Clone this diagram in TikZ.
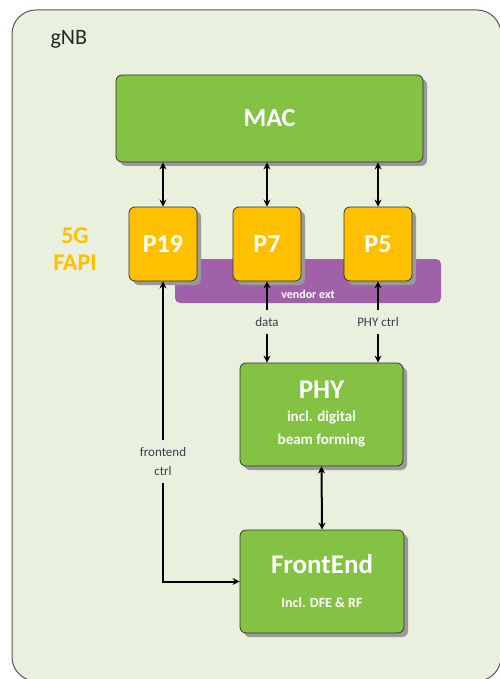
\documentclass[tikz,border=0pt]{standalone}
\usepackage{fontspec}
\setmainfont{Carlito}
\usetikzlibrary{positioning,shadows,arrows.meta}
\definecolor{gnbbg}{RGB}{234,240,222}
\definecolor{gnbline}{RGB}{85,85,85}
\definecolor{macgreen}{RGB}{131,194,66}
\definecolor{fapiorange}{RGB}{255,192,0}
\definecolor{vendorpurple}{RGB}{161,97,168}
\definecolor{lbltext}{RGB}{60,60,75}

\begin{document}
\begin{tikzpicture}[x=1pt,y=-1pt,
block/.style={rectangle, draw=black!80, line width=0.8pt, rounded corners=6pt, fill=macgreen,
        text=white, align=center, inner sep=0pt,
        drop shadow={shadow xshift=4pt, shadow yshift=-4pt, fill=black!40, opacity=1}},
port/.style={block, fill=fapiorange, minimum width=68pt, minimum height=74pt,
        font=\fontsize{26}{28}\selectfont\bfseries},
conn/.style={line width=2pt, {Stealth[length=7pt,width=7pt]}-{Stealth[length=7pt,width=7pt]}},
lbl/.style={fill=gnbbg, text=lbltext, align=center, inner xsep=2pt, inner ysep=7pt,
        font=\fontsize{13}{19}\selectfont}
]
  \useasboundingbox (0,0) rectangle (499,679);
  \node (gnb) [draw=gnbline, line width=1pt, fill=gnbbg, rounded corners=24pt,
      minimum width=489pt, minimum height=671pt] at (256.5,345.5) {};
  \node [anchor=base west, font=\fontsize{22}{24}\selectfont, text=black!85] at (47,45) {gNB};

  \node (mac) [block, minimum width=307pt, minimum height=87pt,
      font=\fontsize{26}{28}\selectfont\bfseries] at (269.5,118.5) {MAC};

  \node (vendor) [rectangle, rounded corners=5pt, fill=vendorpurple, minimum width=266pt,
      minimum height=44pt, label={[text=white, font=\fontsize{12}{13}\selectfont\bfseries,
      label distance=-17pt]south:vendor ext}] at (308,281) {};

  \node (p19) [port] at (163,244) {P19};
  \node (p7)  [port] at (267,244) {P7};
  \node (p5)  [port] at (378,244) {P5};

  \node (fapi) [align=center, text=fapiorange, font=\fontsize{24}{27}\selectfont\bfseries]
      at (75,249) {5G\\FAPI};

  \node (phy) [block, minimum width=163pt, minimum height=103pt,
      font=\fontsize{15}{23}\selectfont\bfseries] at (321.5,414.5)
      {{\fontsize{27}{30}\selectfont PHY}\\incl. digital\\beam forming};
  \node (fe) [block, minimum width=164pt, minimum height=103pt,
      font=\fontsize{14}{34}\selectfont\bfseries] at (322,581.5)
      {{\fontsize{27}{30}\selectfont FrontEnd}\\Incl. DFE \& RF};

  \draw [conn] (p19.north |- mac.south) -- (p19.north);
  \draw [conn] (p7.north |- mac.south) -- (p7.north);
  \draw [conn] (p5.north |- mac.south) -- (p5.north);
  \draw [conn] (p7.south) -- node [lbl] {data} (p7.south |- phy.north);
  \draw [conn] (p5.south) -- node [lbl] {PHY ctrl} (p5.south |- phy.north);
  \draw [conn] (phy.south) -- (fe.north);
  \draw [conn] (p19.south) -- node [lbl, pos=0.6] {frontend\\ctrl} (p19.south |- fe.west) -- (fe.west);
\end{tikzpicture}
\end{document}
